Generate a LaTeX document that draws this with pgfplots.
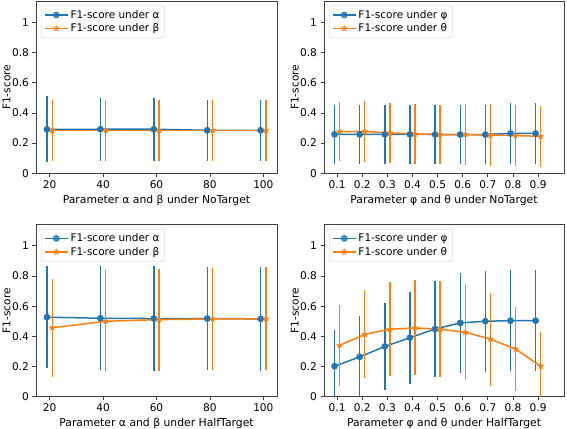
\documentclass[border=0pt]{standalone}
\usepackage{fontspec}
\setmainfont{DejaVu Sans}
\usepackage{pgfplots}
\usepackage{pgfplotstable}
\pgfplotsset{compat=1.18}
\definecolor{c1}{HTML}{1F77B4}
\definecolor{c2}{HTML}{FF7F0E}

\pgfdeclareplotmark{fstar}{%
  \pgfpathmoveto{\pgfpointpolar{90}{\pgfplotmarksize}}%
  \pgfpathlineto{\pgfpointpolar{126}{0.42\pgfplotmarksize}}%
  \pgfpathlineto{\pgfpointpolar{162}{\pgfplotmarksize}}%
  \pgfpathlineto{\pgfpointpolar{198}{0.42\pgfplotmarksize}}%
  \pgfpathlineto{\pgfpointpolar{234}{\pgfplotmarksize}}%
  \pgfpathlineto{\pgfpointpolar{270}{0.42\pgfplotmarksize}}%
  \pgfpathlineto{\pgfpointpolar{306}{\pgfplotmarksize}}%
  \pgfpathlineto{\pgfpointpolar{342}{0.42\pgfplotmarksize}}%
  \pgfpathlineto{\pgfpointpolar{18}{\pgfplotmarksize}}%
  \pgfpathlineto{\pgfpointpolar{54}{0.42\pgfplotmarksize}}%
  \pgfpathclose\pgfusepathqfillstroke}

\pgfplotstableread{
x y e
19 0.291 0.218
39 0.292 0.210
59 0.292 0.210
79 0.285 0.202
99 0.285 0.202
}\tla
\pgfplotstableread{
x y e
21 0.284 0.202
41 0.284 0.202
61 0.284 0.202
81 0.284 0.202
101 0.284 0.202
}\tlb
\pgfplotstableread{
x y e
0.09 0.258 0.196
0.19 0.258 0.197
0.29 0.258 0.197
0.39 0.258 0.197
0.49 0.257 0.197
0.59 0.257 0.197
0.69 0.257 0.197
0.79 0.264 0.203
0.89 0.264 0.203
}\tra
\pgfplotstableread{
x y e
0.11 0.276 0.195
0.21 0.277 0.205
0.31 0.268 0.197
0.41 0.261 0.199
0.51 0.257 0.197
0.61 0.257 0.201
0.71 0.253 0.205
0.81 0.250 0.201
0.91 0.245 0.202
}\trb
\pgfplotstableread{
x y e
19 0.527 0.339
39 0.520 0.345
59 0.518 0.347
79 0.518 0.341
99 0.516 0.343
}\bla
\pgfplotstableread{
x y e
21 0.457 0.326
41 0.500 0.339
61 0.511 0.338
81 0.515 0.341
101 0.516 0.341
}\blb
\pgfplotstableread{
x y e
0.09 0.202 0.242
0.19 0.264 0.269
0.29 0.333 0.289
0.39 0.391 0.305
0.49 0.449 0.318
0.59 0.489 0.331
0.69 0.500 0.333
0.79 0.504 0.336
0.89 0.504 0.336
}\bra
\pgfplotstableread{
x y e
0.11 0.340 0.267
0.21 0.413 0.291
0.31 0.447 0.311
0.41 0.456 0.315
0.51 0.447 0.318
0.61 0.427 0.317
0.71 0.382 0.308
0.81 0.316 0.277
0.91 0.202 0.225
}\brb

\pgfplotsset{
  myax/.style={
    scale only axis, width=241pt, height=172pt,
    ymin=0, ymax=1.14, ytick={0,0.2,0.4,0.6,0.8,1},
    axis line style={draw=black!75, line width=0.8pt},
    tick align=outside, tick pos=left, major tick length=3.5pt,
    tick style={black!75, line width=0.8pt},
    /pgf/number format/assume math mode=true,
    font=\fontsize{10.6}{12.7}\selectfont,
    ticklabel style={font=\fontsize{10.6}{12.7}\selectfont},
    label style={font=\fontsize{10.8}{13}\selectfont},
    ylabel={F1-score},
    every axis y label/.style={at={(axis description cs:-0.122,0.5)}, rotate=90, anchor=center},
    legend style={at={(0.022,0.975)}, anchor=north west, draw=black!20,
      rounded corners=2pt, fill=white, fill opacity=0.8, text opacity=1,
      font=\fontsize{10.5}{12.6}\selectfont, inner sep=2.5pt, row sep=0pt},
    legend cell align=left,
    legend image code/.code={\draw[mark repeat=2,mark phase=2,##1] plot coordinates {(0pt,0pt)(11.5pt,0pt)(23pt,0pt)};},
  },
  sa/.style={c1, line width=1.5pt, mark=*, mark size=3.1pt, mark options={solid, fill=c1, draw=c1, line width=0.5pt},
    error bars/.cd, y dir=both, y explicit, error mark=none, error bar style={line width=1.4pt, draw=c1}},
  sb/.style={c2, line width=1.5pt, mark=fstar, mark size=3.2pt, mark options={solid, fill=c2, draw=c2, line width=0.3pt},
    error bars/.cd, y dir=both, y explicit, error mark=none, error bar style={line width=1.4pt, draw=c2}},
}

\begin{document}
\begin{tikzpicture}[x=1pt,y=1pt]
\useasboundingbox (0,0) rectangle (567,428);
% top left
\begin{axis}[myax, at={(36pt,254.7pt)}, anchor=south west,
  xmin=14.9, xmax=105.1, xtick={20,40,60,80,100},
  xlabel={Parameter α and β under NoTarget}]
\addplot[sa] table[x=x,y=y,y error=e] {\tla};
\addlegendentry{F1-score under α}
\addplot[sb] table[x=x,y=y,y error=e] {\tlb};
\addlegendentry{F1-score under β}
\end{axis}
% top right
\begin{axis}[myax, at={(324pt,254.7pt)}, anchor=south west, width=240pt,
  xmin=0.048, xmax=1.003, xtick={0.1,0.2,0.3,0.4,0.5,0.6,0.7,0.8,0.9},
  xticklabels={0.1,0.2,0.3,0.4,0.5,0.6,0.7,0.8,0.9},
  xlabel={Parameter φ and θ under NoTarget}]
\addplot[sa] table[x=x,y=y,y error=e] {\tra};
\addlegendentry{F1-score under φ}
\addplot[sb] table[x=x,y=y,y error=e] {\trb};
\addlegendentry{F1-score under θ}
\end{axis}
% bottom left
\begin{axis}[myax, at={(36pt,31.3pt)}, anchor=south west,
  xmin=14.9, xmax=105.1, xtick={20,40,60,80,100},
  xlabel={Parameter α and β under HalfTarget}]
\addplot[sa] table[x=x,y=y,y error=e] {\bla};
\addlegendentry{F1-score under α}
\addplot[sb] table[x=x,y=y,y error=e] {\blb};
\addlegendentry{F1-score under β}
\end{axis}
% bottom right
\begin{axis}[myax, at={(324pt,31.3pt)}, anchor=south west, width=240pt,
  xmin=0.048, xmax=1.003, xtick={0.1,0.2,0.3,0.4,0.5,0.6,0.7,0.8,0.9},
  xticklabels={0.1,0.2,0.3,0.4,0.5,0.6,0.7,0.8,0.9},
  xlabel={Parameter φ and θ under HalfTarget}]
\addplot[sa] table[x=x,y=y,y error=e] {\bra};
\addlegendentry{F1-score under φ}
\addplot[sb] table[x=x,y=y,y error=e] {\brb};
\addlegendentry{F1-score under θ}
\end{axis}
\end{tikzpicture}
\end{document}
